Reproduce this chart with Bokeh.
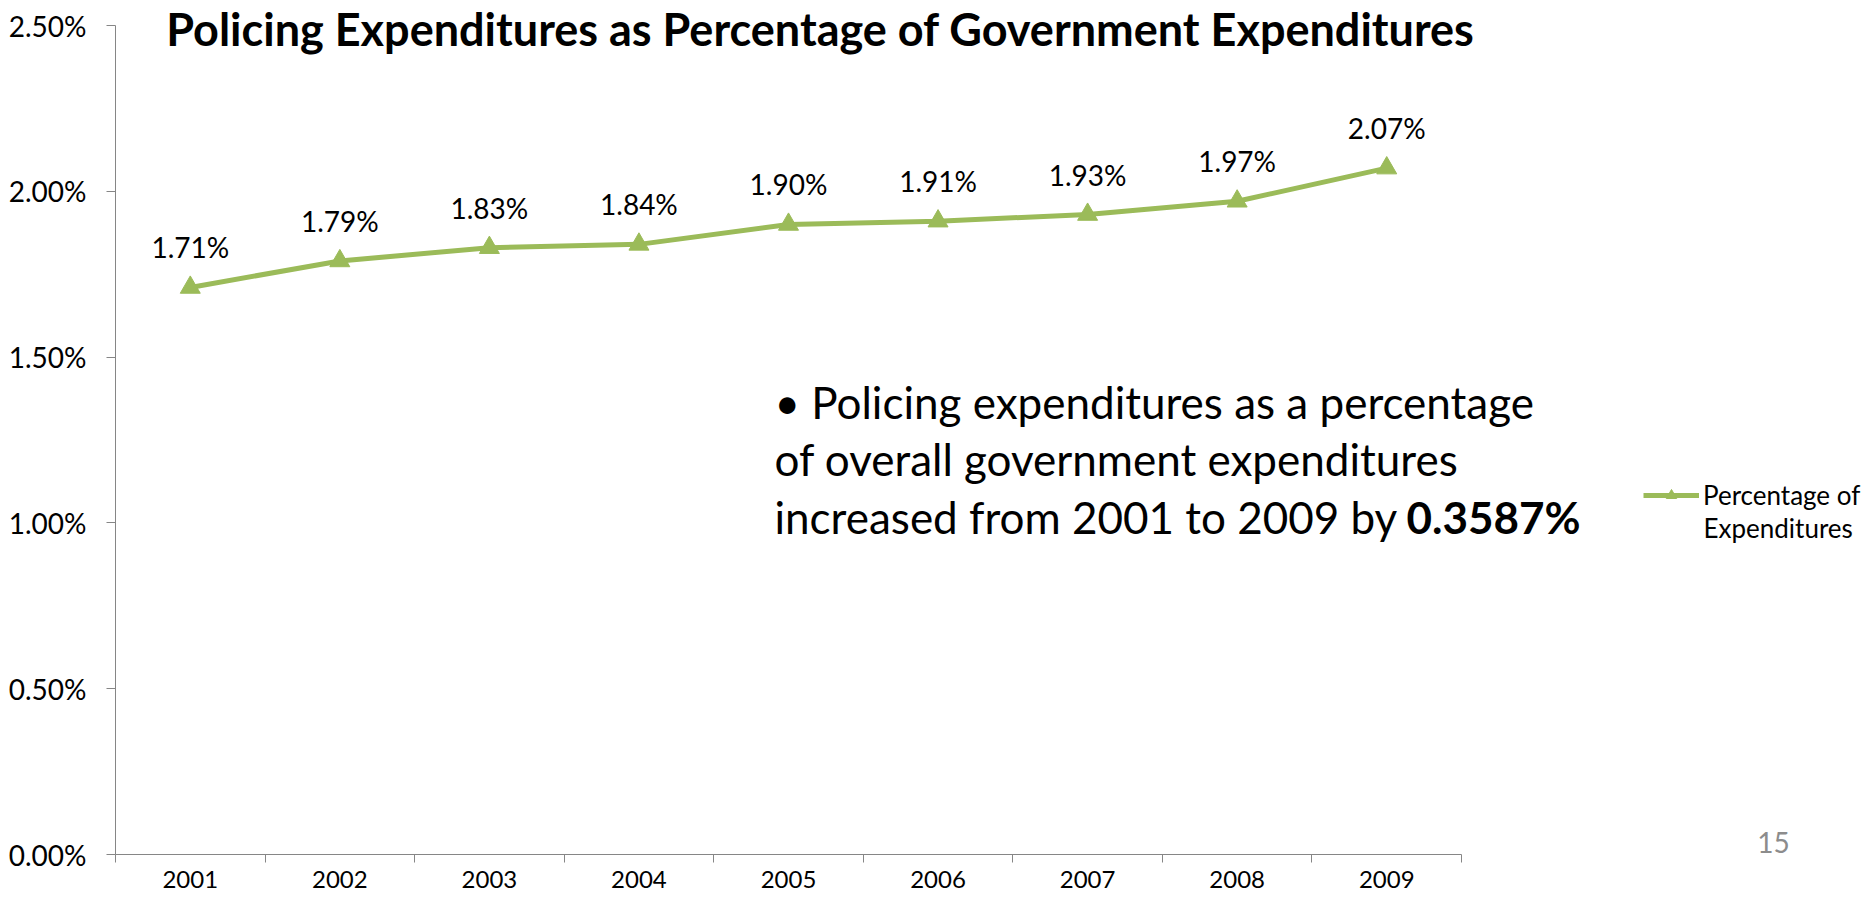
from bokeh.plotting import figure
from bokeh.models import (ColumnDataSource, FixedTicker, PrintfTickFormatter,
                          LabelSet, Legend, LegendItem, Range1d)
from bokeh.core.properties import value
from bokeh.embed import file_html
from bokeh.resources import INLINE

# ---- data ----
years = ["2001", "2002", "2003", "2004", "2005", "2006", "2007", "2008", "2009"]
pct = [1.71, 1.79, 1.83, 1.84, 1.90, 1.91, 1.93, 1.97, 2.07]
pct_labels = ["1.71%", "1.79%", "1.83%", "1.84%", "1.90%", "1.91%", "1.93%", "1.97%", "2.07%"]
y_ticks = [0.0, 0.5, 1.0, 1.5, 2.0, 2.5]
title_text = "Policing Expenditures as Percentage of Government Expenditures"
note_lines = ["\u2022 Policing expenditures as a percentage",
              "of overall government expenditures",
              "increased from 2001 to 2009 by"]
note_bold = "0.3587%"
legend_lines = ["Percentage of", "Expenditures"]
page_number = "15"

FONT = "Lato"
GREEN = "#9BBB59"
AXIS = "#868686"

# geometry (canvas px)
W, H = 1866, 900
FL = 115                  # frame left (y axis position)
FB = 46                   # bottom border (x axis position = H - FB)
AXIS_W = 1346             # pixel length of the category axis
AXIS_TOP = 25             # pixel row of the top of the value axis
FW, FH = W - FL, H - FB
AXIS_H = FH - AXIS_TOP
XMIN = 0.5
XEND = len(years) + 0.5
XMAX = XMIN + FW / AXIS_W * (XEND - XMIN)
YMIN, YEND = 0.0, 2.5
YMAX = YMIN + FH / AXIS_H * (YEND - YMIN)

def dx(px):
    return XMIN + (px - FL) / AXIS_W * (XEND - XMIN)

def dy(py):
    return YMIN + (FH - py) / AXIS_H * (YEND - YMIN)

xs = list(range(1, len(years) + 1))
src = ColumnDataSource(dict(x=xs, y=pct, lab=pct_labels))

p = figure(frame_width=FW, frame_height=FH, x_range=Range1d(XMIN, XMAX),
           y_range=Range1d(YMIN, YMAX), output_backend="svg", toolbar_location=None,
           min_border_left=FL, min_border_top=0, min_border_right=0, min_border_bottom=FB)
p.outline_line_color = None
p.grid.visible = False
p.background_fill_color = "white"
p.border_fill_color = "white"

ln = p.line("x", "y", source=src, line_color=GREEN, line_width=5)
sc = p.scatter("x", "y", source=src, marker="triangle", size=20,
               fill_color=GREEN, line_color=GREEN)

# x axis: labels at centres, ticks at category boundaries (minor ticks)
xa = p.xaxis[0]
xa.bounds = (XMIN, XEND)
xa.ticker = FixedTicker(ticks=xs, minor_ticks=[i + 0.5 for i in range(0, len(years) + 1)])
xa.major_label_overrides = {i: y for i, y in zip(xs, years)}
xa.major_tick_out = 0
xa.major_tick_in = 0
xa.minor_tick_out = 8
xa.minor_tick_in = 0
xa.minor_tick_line_color = AXIS
xa.axis_line_color = AXIS
xa.major_label_standoff = 8
xa.major_label_text_font = FONT
xa.major_label_text_font_size = "24px"
xa.major_label_text_color = "black"

ya = p.yaxis[0]
ya.bounds = (YMIN, YEND)
ya.ticker = FixedTicker(ticks=y_ticks, minor_ticks=[])
ya.formatter = PrintfTickFormatter(format="%.2f%%")
ya.major_tick_out = 9
ya.major_tick_in = 0
ya.major_tick_line_color = AXIS
ya.axis_line_color = AXIS
ya.minor_tick_line_color = None
ya.major_label_standoff = 20
ya.major_label_text_font = FONT
ya.major_label_text_font_size = "28px"
ya.major_label_text_color = "black"

# data labels
p.add_layout(LabelSet(x="x", y="y", text="lab", source=src, y_offset=29,
                      text_align="center", text_baseline="alphabetic",
                      text_font=value(FONT), text_font_size=value("28px"),
                      text_color="black"))

def add_text(px_list, py_list, texts, size, align="left", bold=False, color="black"):
    s = ColumnDataSource(dict(x=[dx(v) for v in px_list], y=[dy(v) for v in py_list],
                              t=list(texts)))
    p.add_layout(LabelSet(x="x", y="y", text="t", source=s, text_align=align,
                          text_baseline="alphabetic", text_font=value(FONT),
                          text_font_size=value(size),
                          text_font_style="bold" if bold else "normal",
                          text_color=color))

# title
add_text([820], [45], [title_text], "45px", align="center", bold=True)

# note text
baselines = [418, 475.5, 533]
add_text([774] * 3, baselines, note_lines, "44px")
add_text([1406], [baselines[2]], [note_bold], "44px", bold=True)

# page number
add_text([1773], [852], [page_number], "28px", align="center", color="#8C8C8C")

# legend (glyph + first line), second line as text below
leg = Legend(items=[LegendItem(label=legend_lines[0], renderers=[ln, sc])],
             location=(1643 - FL, FH - 511),
             border_line_color=None, background_fill_alpha=0,
             padding=0, margin=0, glyph_width=56, glyph_height=26, label_standoff=4,
             label_text_font=FONT, label_text_font_size="26px", label_text_color="black")
p.add_layout(leg)
add_text([1703], [537], [legend_lines[1]], "26px")

open("out.html", "w").write(file_html(p, INLINE))
